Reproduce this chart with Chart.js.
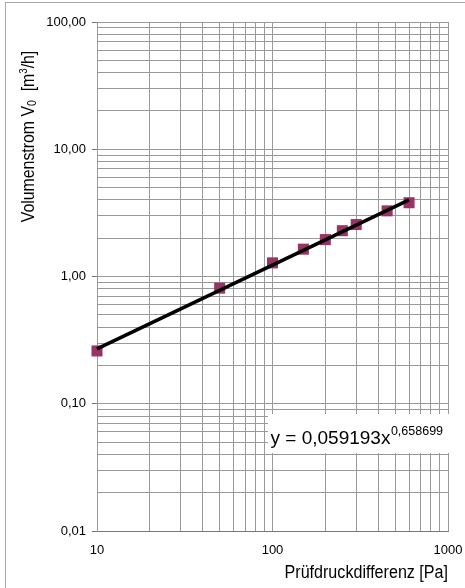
<!DOCTYPE html>
<html>
<head>
<meta charset="utf-8">
<script src="https://cdn.jsdelivr.net/npm/chart.js@4/dist/chart.umd.min.js"></script>
<style>
  html, body { margin: 0; padding: 0; background: #fff; }
  canvas { display: block; }
</style>
</head>
<body>
<canvas id="chart" width="465" height="588"></canvas>
<script>
// Measured leakage flow against test pressure difference
const pressure = [10, 50, 100, 150, 200, 250, 300, 450, 600];
const flow = [0.26, 0.81, 1.28, 1.64, 1.95, 2.29, 2.56, 3.28, 3.80];

// Power-law fit y = a * x^b and the span it is drawn over
const trendCoef = 0.059193;
const trendExp = 0.658699;
const trendRange = [10, 600];

// Decade ticks and their labels
const xMajor = [10, 100, 1000];
const xMajorLabels = ['10', '100', '1000'];
const yMajor = [0.01, 0.1, 1, 10, 100];
const yMajorLabels = ['0,01', '0,10', '1,00', '10,00', '100,00'];

const FONT = "'Liberation Sans', Arial, sans-serif";
const GRID = '#999999';

// 1..9 gridlines inside every decade
function decadeTicks(majors) {
  const out = [];
  majors.forEach((m, i) => {
    out.push(m);
    if (i < majors.length - 1) {
      for (let k = 2; k <= 9; k++) out.push(m * k);
    }
  });
  return out;
}
function majorIndex(majors, v) {
  return majors.findIndex(m => Math.abs(v / m - 1) < 1e-6);
}
const deComma = v => v.toFixed(6).replace('.', ',');

const trendPoints = trendRange.map(x => ({ x, y: trendCoef * Math.pow(x, trendExp) }));
const points = pressure.map((p, i) => ({ x: p, y: flow[i] }));

const decor = {
  id: 'decor',
  beforeDraw(chart) {
    const ctx = chart.ctx;
    ctx.save();
    ctx.fillStyle = '#fff';
    ctx.fillRect(0, 0, chart.width, chart.height);
    ctx.strokeStyle = '#a8a8a8';
    ctx.lineWidth = 1;
    ctx.strokeRect(5.5, 2.5, chart.width + 20, chart.height + 20);
    ctx.restore();
  },
  afterDatasetsDraw(chart) {
    // fit equation label with its white box
    const ctx = chart.ctx;
    const a = chart.chartArea;
    const bx = a.left + 171, by = a.bottom - 117;
    ctx.save();
    ctx.fillStyle = '#fff';
    ctx.fillRect(bx, by, a.right + 1 - bx, 39);
    ctx.fillStyle = '#000';
    ctx.textAlign = 'left';
    ctx.textBaseline = 'alphabetic';
    ctx.font = '19px ' + FONT;
    const base = 'y = ' + deComma(trendCoef) + 'x';
    ctx.fillText(base, bx + 2.5, by + 29.5);
    const w = ctx.measureText(base).width;
    ctx.font = '12.5px ' + FONT;
    ctx.fillText(deComma(trendExp), bx + 3 + w, by + 20.5);
    ctx.restore();
  },
  afterDraw(chart) {
    const ctx = chart.ctx;
    const a = chart.chartArea;
    ctx.save();
    ctx.fillStyle = '#000';
    ctx.textBaseline = 'alphabetic';

    // x axis title
    ctx.font = '17.5px ' + FONT;
    ctx.textAlign = 'right';
    const sx = 0.92;
    ctx.save();
    ctx.translate(a.right, 578);
    ctx.scale(sx, 1);
    ctx.fillText('Prüfdruckdifferenz [Pa]', 0, 0);
    ctx.restore();

    // y axis title with subscript and superscript
    const parts = [
      { t: 'Volumenstrom V', size: 18, dy: 0 },
      { t: '0', size: 12, dy: 2 },
      { t: '  [m', size: 18, dy: 0 },
      { t: '3', size: 11, dy: -6.5 },
      { t: '/h]', size: 18, dy: 0 }
    ];
    let total = 0;
    parts.forEach(p => {
      ctx.font = p.size + 'px ' + FONT;
      p.w = ctx.measureText(p.t).width;
      total += p.w;
    });
    const sy = 0.88;
    ctx.save();
    ctx.translate(33.5, 136.5);
    ctx.rotate(-Math.PI / 2);
    ctx.scale(sy, 1);
    ctx.textAlign = 'left';
    let cx = -total / 2;
    parts.forEach(p => {
      ctx.font = p.size + 'px ' + FONT;
      ctx.fillText(p.t, cx, p.dy);
      cx += p.w;
    });
    ctx.restore();
    ctx.restore();
  }
};

new Chart(document.getElementById('chart'), {
  type: 'scatter',
  data: {
    datasets: [
      {
        type: 'line',
        data: trendPoints,
        borderColor: '#000',
        borderWidth: 3.5,
        pointRadius: 0,
        fill: false,
        clip: false
      },
      {
        type: 'scatter',
        data: points,
        pointStyle: 'rect',
        pointRadius: 7.8,
        backgroundColor: '#993366',
        borderColor: '#993366',
        borderWidth: 0,
        clip: false
      }
    ]
  },
  options: {
    responsive: false,
    devicePixelRatio: 1,
    animation: false,
    layout: { padding: { top: 22, right: 17, left: 0, bottom: 0 } },
    plugins: { legend: { display: false }, tooltip: { enabled: false } },
    scales: {
      x: {
        type: 'logarithmic',
        min: 10,
        max: 1000,
        afterFit(s) { s.height = 57; s.paddingLeft = 0; s.paddingRight = 0; },
        afterBuildTicks(s) { s.ticks = decadeTicks(xMajor).map(v => ({ value: v })); },
        grid: { color: GRID, lineWidth: 1, drawTicks: false },
        border: { display: true, color: '#777' },
        ticks: {
          autoSkip: false,
          maxRotation: 0,
          padding: 12,
          color: '#000',
          font: { family: FONT, size: 13 },
          callback(v) {
            const i = majorIndex(xMajor, v);
            return i >= 0 ? xMajorLabels[i] : '';
          }
        }
      },
      y: {
        type: 'logarithmic',
        min: 0.01,
        max: 100,
        afterFit(s) { s.width = 97; s.paddingTop = 0; s.paddingBottom = 0; },
        afterBuildTicks(s) { s.ticks = decadeTicks(yMajor).map(v => ({ value: v })); },
        grid: {
          color: GRID,
          lineWidth: 1,
          tickLength: 5,
          tickColor(c) { return c.tick && majorIndex(yMajor, c.tick.value) >= 0 ? '#777' : 'rgba(0,0,0,0)'; }
        },
        border: { display: true, color: '#999' },
        ticks: {
          autoSkip: false,
          padding: 6,
          color: '#000',
          font: { family: FONT, size: 13 },
          callback(v) {
            const i = majorIndex(yMajor, v);
            return i >= 0 ? yMajorLabels[i] : '';
          }
        }
      }
    }
  },
  plugins: [decor]
});
</script>
</body>
</html>
